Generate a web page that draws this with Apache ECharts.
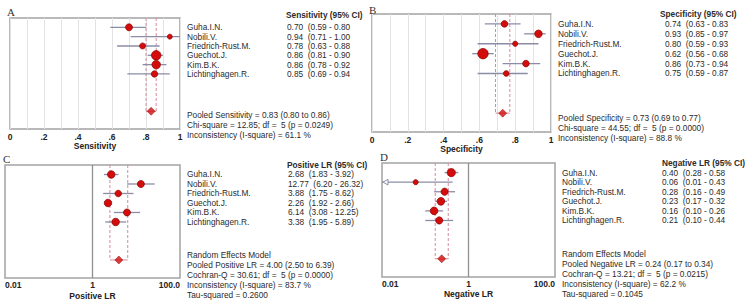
<!DOCTYPE html>
<html>
<head>
<meta charset="utf-8">
<script src="https://cdn.jsdelivr.net/npm/echarts@6/dist/echarts.min.js"></script>
<style>
  html, body { margin: 0; padding: 0; background: #fff; }
  #chart { width: 745px; height: 304px; }
</style>
</head>
<body>
<div id="chart"></div>
<script>
// study names, shared by all four panels
const studies = ['Guha.I.N.', 'Nobili.V.', 'Friedrich-Rust.M.', 'Guechot.J.', 'Kim.B.K.', 'Lichtinghagen.R.'];

// A: sensitivity
const sens = [0.70, 0.94, 0.78, 0.86, 0.86, 0.85];
const sensLo = [0.59, 0.71, 0.63, 0.81, 0.78, 0.69];
const sensHi = [0.80, 1.00, 0.88, 0.90, 0.92, 0.94];
const sensWeight = [15.6, 8.0, 11.5, 28.7, 22.9, 13.4];
const sensPooled = [0.83, 0.80, 0.86];
const sensStats = ['Pooled Sensitivity = 0.83 (0.80 to 0.86)', 'Chi-square = 12.85; df =\u00a0 5 (p = 0.0249)', 'Inconsistency (I-square) = 61.1 %'];

// B: specificity
const spec = [0.74, 0.93, 0.80, 0.62, 0.86, 0.75];
const specLo = [0.63, 0.85, 0.59, 0.56, 0.73, 0.59];
const specHi = [0.83, 0.97, 0.93, 0.68, 0.94, 0.87];
const specWeight = [14.0, 18.3, 8.7, 34.7, 14.0, 10.3];
const specPooled = [0.73, 0.69, 0.77];
const specStats = ['Pooled Specificity = 0.73 (0.69 to 0.77)', 'Chi-square = 44.55; df =\u00a0 5 (p = 0.0000)', 'Inconsistency (I-square) = 88.8 %'];

// C: positive likelihood ratio
const plr = [2.68, 12.77, 3.88, 2.26, 6.14, 3.38];
const plrLo = [1.83, 6.20, 1.75, 1.92, 3.08, 1.95];
const plrHi = [3.92, 26.32, 8.62, 2.66, 12.25, 5.89];
const plrWeight = [18.3, 15.9, 13.7, 18.3, 15.9, 18.3];
const plrPooled = [4.00, 2.50, 6.39];
const plrStats = ['Random Effects Model', 'Pooled Positive LR = 4.00 (2.50 to 6.39)', 'Cochran-Q = 30.61; df =\u00a0 5 (p = 0.0000)', 'Inconsistency (I-square) = 83.7 %', 'Tau-squared = 0.2600'];

// D: negative likelihood ratio
const nlr = [0.40, 0.06, 0.28, 0.23, 0.16, 0.21];
const nlrLo = [0.28, 0.01, 0.16, 0.17, 0.10, 0.10];
const nlrHi = [0.58, 0.43, 0.49, 0.32, 0.26, 0.44];
const nlrWeight = [21.4, 8.4, 16.4, 18.8, 18.8, 16.4];
const nlrPooled = [0.24, 0.17, 0.34];
const nlrStats = ['Random Effects Model', 'Pooled Negative LR = 0.24 (0.17 to 0.34)', 'Cochran-Q = 13.21; df =\u00a0 5 (p = 0.0215)', 'Inconsistency (I-square) = 62.2 %', 'Tau-squared = 0.1045'];

// tick labels
const propTicks = ['0', '.2', '.4', '.6', '.8', '1'];
const lrTickValues = [0.01, 1, 100];
const lrTickLabels = ['0.01', '1', '100.0'];

const POOLED_ROW = 9;
const ROW_MAX = 10.9;
const FONT = '"Liberation Sans", Arial, sans-serif';
const TEXT_COLOR = '#2b2b2b';
const RED = '#d30c0c';
const FS = 8.3;

const panels = [
  { letter: 'A', name: 'Sensitivity', header: 'Sensitivity (95% CI)', est: sens, lo: sensLo, hi: sensHi, w: sensWeight,
    pooled: sensPooled, stats: sensStats, log: false, box: [10, 18, 170, 111], letterPos: [7, 6],
    nameX: 7, valX: 107, headerX: 106, headerRow: -1.35, statsRow: 9.45, closeParen: false, nameGap: 12 },
  { letter: 'B', name: 'Specificity', header: 'Specificity (95% CI)', est: spec, lo: specLo, hi: specHi, w: specWeight,
    pooled: specPooled, stats: specStats, log: false, box: [372, 14, 179, 118], letterPos: [369, 4],
    nameX: 7, valX: 114, headerX: 109, headerRow: -1.0, statsRow: 9.45, closeParen: false, nameGap: 12.5 },
  { letter: 'C', name: 'Positive LR', header: 'Positive LR (95% CI)', est: plr, lo: plrLo, hi: plrHi, w: plrWeight,
    pooled: plrPooled, stats: plrStats, log: true, box: [5, 165, 175, 113], letterPos: [3, 153],
    nameX: 7, valX: 108, headerX: 107, headerRow: -1.05, statsRow: 8.45, closeParen: true, nameGap: 13 },
  { letter: 'D', name: 'Negative LR', header: 'Negative LR (95% CI)', est: nlr, lo: nlrLo, hi: nlrHi, w: nlrWeight,
    pooled: nlrPooled, stats: nlrStats, log: true, box: [382, 163, 173, 114], letterPos: [380, 151],
    nameX: 7, valX: 107, headerX: 107, headerRow: -1.05, statsRow: 8.45, closeParen: false, nameGap: 12.5 }
];

const grid = [], xAxis = [], yAxis = [], series = [], graphic = [];

panels.forEach((p, idx) => {
  const xMin = p.log ? 0.01 : 0;
  const xMax = p.log ? 100 : 1;

  grid.push({
    left: p.box[0], top: p.box[1], width: p.box[2], height: p.box[3],
    show: true, borderColor: '#a2a2a2', borderWidth: 1.5, backgroundColor: '#fff'
  });

  const labelStyle = { fontFamily: FONT, fontSize: 8.5, fontWeight: 'bold', color: '#222', margin: 3 };
  const nameStyle = { fontFamily: FONT, fontSize: 8.5, fontWeight: 'bold', color: '#222', verticalAlign: 'top' };
  if (p.log) {
    // tick labels of the log axes are added as graphic texts after the first render
    xAxis.push({
      gridIndex: idx, type: 'log', logBase: 10, min: xMin, max: xMax,
      name: p.name, nameLocation: 'middle', nameGap: p.nameGap, nameTextStyle: nameStyle,
      axisLine: { show: false }, axisTick: { show: false }, splitLine: { show: false },
      axisLabel: { show: false }
    });
  } else {
    xAxis.push({
      gridIndex: idx, type: 'value', min: xMin, max: xMax, interval: 0.2,
      name: p.name, nameLocation: 'middle', nameGap: p.nameGap, nameTextStyle: nameStyle,
      axisLine: { show: false }, axisTick: { show: false },
      splitLine: { show: true, lineStyle: { color: '#e3e3e3', width: 1 } },
      minorTick: { show: false, splitNumber: 2 },
      minorSplitLine: { show: true, lineStyle: { color: '#e3e3e3', width: 1 } },
      axisLabel: Object.assign({}, labelStyle, {
        formatter: v => propTicks[Math.round(v * 5)]
      })
    });
  }

  yAxis.push({ gridIndex: idx, type: 'value', inverse: true, min: -1, max: ROW_MAX, show: false });

  // confidence interval lines (with an open arrow when a limit hits the axis edge)
  series.push({
    type: 'custom', xAxisIndex: idx, yAxisIndex: idx, z: 2, silent: true,
    data: p.est.map((e, i) => [p.lo[i], p.hi[i], i]),
    encode: { x: [0, 1], y: 2 },
    renderItem: (params, api) => {
      const lo = api.value(0), hi = api.value(1), row = api.value(2);
      const a = api.coord([Math.max(lo, xMin), row]);
      const b = api.coord([Math.min(hi, xMax), row]);
      const kids = [{
        type: 'line', shape: { x1: a[0], y1: a[1], x2: b[0], y2: b[1] },
        style: { stroke: '#8d8ca8', lineWidth: 1.3 }
      }];
      if (lo <= xMin) {
        kids.push({
          type: 'polygon',
          shape: { points: [[a[0] + 1, a[1]], [a[0] + 6, a[1] - 2.8], [a[0] + 6, a[1] + 2.8]] },
          style: { fill: '#fff', stroke: '#8d8ca8', lineWidth: 1 }
        });
      }
      return { type: 'group', children: kids };
    }
  });

  // pooled estimate: dashed limits from the top of the box down to the pooled row
  series.push({
    type: 'custom', xAxisIndex: idx, yAxisIndex: idx, z: 1, silent: true,
    data: [[p.pooled[1], p.pooled[2], POOLED_ROW]],
    encode: { x: [0, 1], y: 2 },
    renderItem: (params, api) => {
      const lo = api.value(0), hi = api.value(1), row = api.value(2);
      const top = params.coordSys.y;
      const a = api.coord([lo, row]), b = api.coord([hi, row]);
      const dash = { stroke: '#d58b9b', lineWidth: 1, lineDash: [3, 2] };
      return {
        type: 'group', children: [
          { type: 'line', shape: { x1: a[0], y1: top, x2: a[0], y2: a[1] }, style: dash },
          { type: 'line', shape: { x1: b[0], y1: top, x2: b[0], y2: b[1] }, style: dash },
          { type: 'line', shape: { x1: a[0], y1: a[1], x2: b[0], y2: b[1] }, style: { stroke: '#d58b9b', lineWidth: 1 } }
        ]
      };
    }
  });

  // study markers sized by weight
  const markers = {
    type: 'scatter', xAxisIndex: idx, yAxisIndex: idx, z: 3, silent: true,
    data: p.est.map((e, i) => [e, i, p.w[i]]),
    symbol: 'circle',
    symbolSize: d => 1.77 * Math.sqrt(d[2]),
    itemStyle: { color: RED, borderColor: '#8a0000', borderWidth: 0.7, opacity: 1 }
  };
  if (p.log) {
    markers.markLine = {
      silent: true, symbol: 'none', label: { show: false },
      lineStyle: { color: '#8f8f8f', width: 1.3, type: 'solid' },
      data: [{ xAxis: 1 }]
    };
  }
  series.push(markers);

  // pooled diamond
  series.push({
    type: 'scatter', xAxisIndex: idx, yAxisIndex: idx, z: 3, silent: true,
    data: [[p.pooled[0], POOLED_ROW]],
    symbol: 'diamond', symbolSize: [8, 8],
    itemStyle: { color: RED, borderColor: '#8a0000', borderWidth: 0.6 }
  });

  // text column to the right of the box
  const items = [];
  items.push({ row: p.headerRow, dx: p.headerX, text: p.header, bold: true });
  studies.forEach((s, i) => {
    const ci = '(' + p.lo[i].toFixed(2) + ' - ' + p.hi[i].toFixed(2) + (p.closeParen ? ')' : '');
    items.push({ row: i, dx: p.nameX, text: s });
    items.push({ row: i, dx: p.valX, text: p.est[i].toFixed(2) + '\u00a0\u00a0' + ci });
  });
  p.stats.forEach((s, k) => {
    items.push({ row: p.statsRow + k * 1.05, dx: p.nameX, text: s });
  });

  series.push({
    type: 'custom', xAxisIndex: idx, yAxisIndex: idx, z: 4, silent: true,
    data: items.map(it => [xMin, it.row]),
    encode: { x: 0, y: 1 },
    renderItem: (params, api) => {
      const it = items[params.dataIndex];
      const cs = params.coordSys;
      const y = api.coord([xMin, api.value(1)])[1];
      return {
        type: 'text',
        style: {
          text: it.text, x: cs.x + cs.width + it.dx, y: y,
          fill: TEXT_COLOR, fontFamily: FONT, fontSize: FS,
          fontWeight: it.bold ? 'bold' : 'normal',
          align: 'left', verticalAlign: 'middle'
        }
      };
    }
  });

  graphic.push({
    type: 'text', left: p.letterPos[0], top: p.letterPos[1], silent: true,
    style: { text: p.letter, fill: '#333', fontFamily: '"Liberation Serif", "Times New Roman", serif', fontSize: 11 }
  });
});

const chart = echarts.init(document.getElementById('chart'), null, { renderer: 'svg' });
chart.setOption({
  backgroundColor: '#fff',
  animation: false,
  grid: grid,
  xAxis: xAxis,
  yAxis: yAxis,
  series: series,
  graphic: graphic
});

// log-axis tick labels, positioned through each panel's own axis scale
const tickTexts = graphic.slice();
panels.forEach((p, idx) => {
  if (!p.log) return;
  lrTickValues.forEach((v, k) => {
    const pt = chart.convertToPixel({ gridIndex: idx }, [v, ROW_MAX]);
    tickTexts.push({
      type: 'text', x: pt[0], y: pt[1] + 2.5, z: 100, silent: true,
      style: {
        text: lrTickLabels[k], fill: '#222', fontFamily: FONT, fontSize: 8.5, fontWeight: 'bold',
        align: k === 0 ? 'left' : (k === lrTickValues.length - 1 ? 'right' : 'center'),
        verticalAlign: 'top'
      }
    });
  });
});
chart.setOption({ graphic: tickTexts });
</script>
</body>
</html>
